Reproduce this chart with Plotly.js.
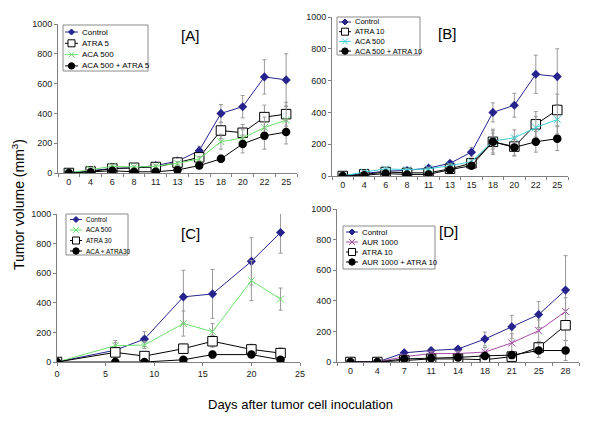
<!DOCTYPE html>
<html>
<head>
<meta charset="utf-8">
<script src="https://cdn.plot.ly/plotly-3.0.1.min.js"></script>
<style>
  body { margin: 0; background: #fff; }
  #myPlot { width: 600px; height: 430px; }
</style>
</head>
<body>
<div id="myPlot"></div>
<script>
// days (x categories / values)
const daysAB = ["0","4","6","8","11","13","15","18","20","22","25"];
const daysC = [0,6,9,13,16,20,23];
const daysD = ["0","4","7","11","14","18","21","25","28"];

// panel A
const ctrlA = [2,15,30,35,50,80,150,400,445,645,625];
const ctrlAErr = [2,5,8,8,10,15,30,60,75,115,175];
const atra5 = [0,10,30,35,40,70,105,285,270,375,395];
const atra5Err = [0,5,8,8,10,12,20,55,55,80,80];
const aca500A = [0,25,45,40,45,65,95,210,235,305,355];
const aca500AErr = [0,8,10,8,10,12,15,50,55,70,90];
const comboA = [0,5,15,8,8,20,50,95,195,250,275];
const comboAErr = [0,3,5,5,5,8,12,25,60,90,80];

// panel B
const ctrlB = [2,15,30,35,50,80,150,400,445,640,625];
const ctrlBErr = [2,5,8,8,10,15,30,60,75,120,175];
const atra10B = [0,10,25,20,20,45,80,215,185,325,415];
const atra10BErr = [0,5,8,8,8,12,20,80,60,80,100];
const aca500B = [0,25,45,40,45,65,90,220,240,305,355];
const aca500BErr = [0,8,10,8,10,12,15,50,50,70,90];
const comboB = [0,5,15,10,10,40,65,215,180,215,235];
const comboBErr = [0,3,5,5,5,8,12,70,50,65,75];

// panel C
const ctrlC = [0,80,155,440,460,680,875];
const ctrlCErr = [0,50,50,180,165,160,140];
const aca500C = [0,110,115,260,205,550,425];
const aca500CErr = [0,35,25,85,55,135,75];
const atra30 = [0,65,40,90,140,85,60];
const atra30Err = [0,30,20,30,40,35,35];
const comboC = [0,0,0,15,50,50,15];
const comboCErr = [0,5,5,10,25,20,10];

// panel D
const ctrlD = [0,0,60,75,85,150,230,310,470];
const ctrlDErr = [0,0,15,15,15,45,75,85,225];
const aur1000 = [0,0,35,55,55,65,125,205,330];
const aur1000Err = [0,0,10,15,15,30,60,70,90];
const atra10D = [0,0,10,20,20,15,35,95,240];
const atra10DErr = [0,0,5,8,8,8,15,30,100];
const comboD = [0,0,20,25,30,40,45,75,75];
const comboDErr = [0,0,8,10,10,15,20,45,65];

const NAVY = "#26248c";
const GREEN = "#6fe06f";
const CYAN = "#3fcfd6";
const PURPLE = "#a64aa6";

const styles = {
  ctrl: {kind: "diamond", color: NAVY, marker: {symbol: "diamond", size: 7, color: NAVY}},
  open: {kind: "square", color: "#000", marker: {symbol: "square", size: 9.5, color: "#fff", line: {color: "#000", width: 1}}},
  cross: c => ({kind: "cross", color: c, marker: {symbol: "x-thin-open", size: 7, color: c, line: {color: c, width: 1}}}),
  dot: {kind: "circle", color: "#000", marker: {symbol: "circle", size: 8.5, color: "#000"}}
};

function series(name, x, y, err, st, ax) {
  return {
    x: x, y: y, name: name, type: "scatter", mode: "lines+markers",
    xaxis: "x" + ax, yaxis: "y" + ax, showlegend: false,
    line: {color: st.color, width: 1},
    marker: st.marker,
    error_y: {type: "data", array: err, visible: true, color: "#9a9a9a", thickness: 1, width: 2}
  };
}

const panels = [
  {ax: "", legend: {l: 63, r: 148, t: 25, b: 71, y0: 32, dy: 11.3, x0: 65, x1: 78, tx: 80, fs: 8}, entries: [
    ["Control", daysAB, ctrlA, ctrlAErr, styles.ctrl],
    ["ATRA 5", daysAB, atra5, atra5Err, styles.open],
    ["ACA 500", daysAB, aca500A, aca500AErr, styles.cross(GREEN)],
    ["ACA 500 + ATRA 5", daysAB, comboA, comboAErr, styles.dot]]},
  {ax: "2", legend: {l: 337, r: 420, t: 17, b: 55, y0: 22, dy: 9.7, x0: 339, x1: 351, tx: 353, fs: 7.5}, entries: [
    ["Control", daysAB, ctrlB, ctrlBErr, styles.ctrl],
    ["ATRA 10", daysAB, atra10B, atra10BErr, styles.open],
    ["ACA 500", daysAB, aca500B, aca500BErr, styles.cross(CYAN)],
    ["ACA 500 + ATRA 10", daysAB, comboB, comboBErr, styles.dot]]},
  {ax: "3", legend: {l: 66, r: 128, t: 214, b: 255, y0: 219.5, dy: 10.5, x0: 70, x1: 82, tx: 84, fs: 6.5}, entries: [
    ["Control", daysC, ctrlC, ctrlCErr, styles.ctrl],
    ["ACA 500", daysC, aca500C, aca500CErr, styles.cross(GREEN)],
    ["ATRA 30", daysC, atra30, atra30Err, styles.open],
    ["ACA + ATRA30", daysC, comboC, comboCErr, styles.dot]]},
  {ax: "4", legend: {l: 343, r: 435, t: 226, b: 269, y0: 232, dy: 10, x0: 346, x1: 358, tx: 360, fs: 7.8}, entries: [
    ["Control", daysD, ctrlD, ctrlDErr, styles.ctrl],
    ["AUR 1000", daysD, aur1000, aur1000Err, styles.cross(PURPLE)],
    ["ATRA 10", daysD, atra10D, atra10DErr, styles.open],
    ["AUR 1000 + ATRA 10", daysD, comboD, comboDErr, styles.dot]]}
];

// px helpers (page is 600 x 430)
const px = v => v / 600;
const py = v => 1 - v / 430;

const data = [];
const shapes = [];
const annotations = [];

// hand-drawn legends (compact like the original)
function legendSymbol(kind, color, cx, cy) {
  const s = 3;
  const P = (x, y) => px(x) + "," + py(y);
  const base = {xref: "paper", yref: "paper", layer: "above"};
  if (kind == "diamond")
    return Object.assign(base, {type: "path", path: "M" + P(cx - s, cy) + "L" + P(cx, cy - s) + "L" + P(cx + s, cy) + "L" + P(cx, cy + s) + "Z",
      fillcolor: color, line: {color: color, width: 1}});
  if (kind == "square")
    return Object.assign(base, {type: "rect", x0: px(cx - 3.5), x1: px(cx + 3.5), y0: py(cy - 3.5), y1: py(cy + 3.5),
      fillcolor: "#fff", line: {color: "#000", width: 1}});
  if (kind == "cross")
    return Object.assign(base, {type: "path", path: "M" + P(cx - s, cy - s) + "L" + P(cx + s, cy + s) + "M" + P(cx - s, cy + s) + "L" + P(cx + s, cy - s),
      line: {color: color, width: 1}});
  return Object.assign(base, {type: "circle", x0: px(cx - 3.2), x1: px(cx + 3.2), y0: py(cy - 3.2), y1: py(cy + 3.2),
    fillcolor: color, line: {color: color, width: 1}});
}

panels.forEach(p => {
  const g = p.legend;
  shapes.push({type: "rect", xref: "paper", yref: "paper", layer: "above",
    x0: px(g.l), x1: px(g.r), y0: py(g.t), y1: py(g.b), fillcolor: "#fff", line: {color: "#8a8a8a", width: 1}});
  p.entries.forEach((e, i) => {
    data.push(series(e[0], e[1], e[2], e[3], e[4], p.ax));
    const cy = g.y0 + i * g.dy;
    shapes.push({type: "line", xref: "paper", yref: "paper", layer: "above",
      x0: px(g.x0), x1: px(g.x1), y0: py(cy), y1: py(cy), line: {color: e[4].color, width: 1}});
    shapes.push(legendSymbol(e[4].kind, e[4].color, (g.x0 + g.x1) / 2, cy));
    annotations.push({text: e[0], x: px(g.tx), y: py(cy), xref: "paper", yref: "paper",
      xanchor: "left", yanchor: "middle", showarrow: false, font: {size: g.fs, color: "#000"}});
  });
});

function xax(left, right, extra) {
  return Object.assign({
    domain: [px(left), px(right)], showline: true, linecolor: "#808080", linewidth: 1,
    ticks: "outside", ticklen: 3, tickcolor: "#808080", showgrid: false, zeroline: false,
    tickfont: {size: 9, color: "#222"}, fixedrange: true
  }, extra);
}
function yax(bottom, top, anchor) {
  return {
    domain: [py(bottom), py(top)], range: [0, 1000], dtick: 200, anchor: anchor,
    showline: true, linecolor: "#808080", linewidth: 1, ticks: "outside", ticklen: 3,
    tickcolor: "#808080", showgrid: false, zeroline: false,
    tickfont: {size: 9, color: "#222"}, fixedrange: true
  };
}
function label(txt, x, y, size, angle) {
  return {text: txt, x: px(x), y: py(y), xref: "paper", yref: "paper", xanchor: "center", yanchor: "middle",
          textangle: angle || 0, showarrow: false, font: {size: size, color: "#000"}};
}

annotations.push(
  label("[A]", 190, 36, 15),
  label("[B]", 447, 34, 15),
  label("[C]", 190, 233, 15),
  label("[D]", 448, 231, 15),
  label("Tumor volume (mm<sup>3</sup>)", 18, 205, 14, -90),
  label("Days after tumor cell inoculation", 300, 404, 13)
);

const layout = {
  width: 600, height: 430,
  margin: {l: 0, r: 0, t: 0, b: 0},
  paper_bgcolor: "#fff", plot_bgcolor: "#fff",
  font: {family: "Liberation Sans, Arial, sans-serif"},
  showlegend: false,
  xaxis:  xax(58, 297, {type: "category", range: [-0.5, 10.5], tickson: "boundaries", anchor: "y"}),
  yaxis:  yax(173, 24, "x"),
  xaxis2: xax(332, 568, {type: "category", range: [-0.5, 10.5], tickson: "boundaries", anchor: "y2"}),
  yaxis2: yax(176, 17, "x2"),
  xaxis3: xax(57, 300, {range: [0, 25], dtick: 5, anchor: "y3"}),
  yaxis3: yax(362, 214, "x3"),
  xaxis4: xax(337, 579, {type: "category", range: [-0.5, 8.5], tickson: "boundaries", anchor: "y4"}),
  yaxis4: yax(362, 209, "x4"),
  shapes: shapes,
  annotations: annotations
};

Plotly.newPlot("myPlot", data, layout, {staticPlot: true});
</script>
</body>
</html>
